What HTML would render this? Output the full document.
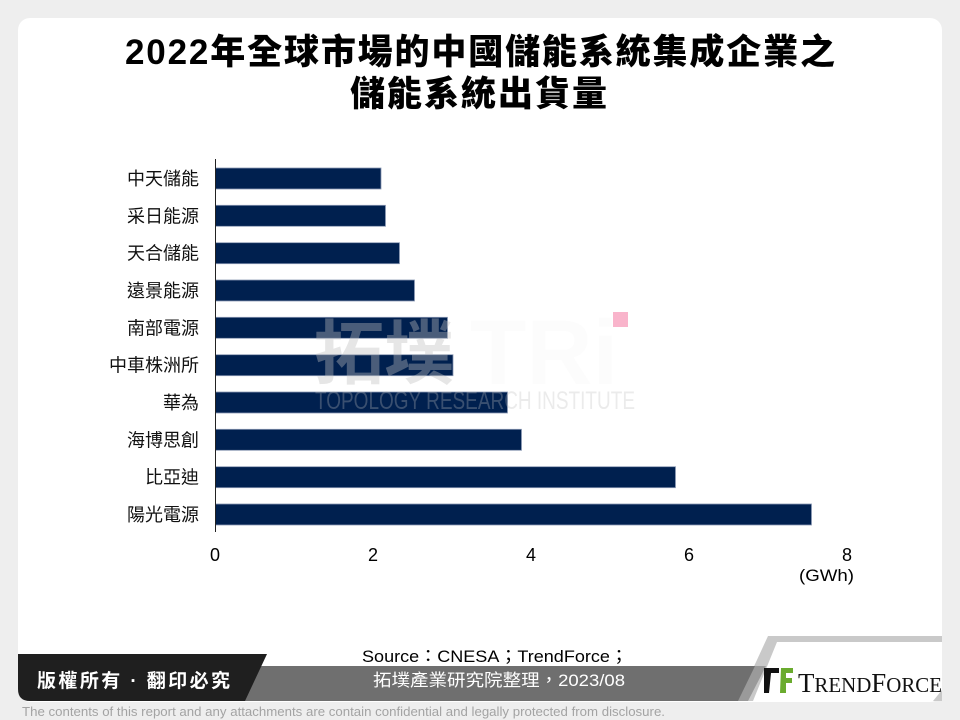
<!DOCTYPE html>
<html>
<head>
<meta charset="utf-8">
<style>
  html,body{margin:0;padding:0;background:#EEEEEE;}
  svg{display:block;}
</style>
</head>
<body>
<svg width="960" height="720" viewBox="0 0 960 720" xmlns="http://www.w3.org/2000/svg">
  <rect x="0" y="0" width="960" height="720" fill="#EEEEEE"/>
  <!-- card -->
  <rect x="18" y="18" width="924" height="684" rx="12" ry="12" fill="#FFFFFF"/>

  <!-- title -->
  <text x="125" y="64" font-size="35" font-weight="800" textLength="710" lengthAdjust="spacing" font-family="'Liberation Sans','Noto Sans CJK TC',sans-serif" fill="#000">2022年全球市場的中國儲能系統集成企業之</text>
  <text x="350" y="106" font-size="35" font-weight="800" textLength="257" lengthAdjust="spacing" font-family="'Liberation Sans','Noto Sans CJK TC',sans-serif" fill="#000">儲能系統出貨量</text>

  <!-- bars -->
  <g fill="#00204F" stroke="#8C9AB4" stroke-width="0.8">
    <rect x="215.5" y="168" width="165.5" height="21"/>
    <rect x="215.5" y="205.3" width="170" height="21"/>
    <rect x="215.5" y="242.7" width="184" height="21"/>
    <rect x="215.5" y="280" width="199" height="21"/>
    <rect x="215.5" y="317.3" width="232" height="21"/>
    <rect x="215.5" y="354.7" width="237.5" height="21"/>
    <rect x="215.5" y="392" width="292" height="21"/>
    <rect x="215.5" y="429.3" width="306" height="21"/>
    <rect x="215.5" y="466.7" width="460" height="21"/>
    <rect x="215.5" y="504" width="596" height="21"/>
  </g>

  <!-- axis -->
  <line x1="215.5" y1="159" x2="215.5" y2="532" stroke="#222" stroke-width="1"/>

  <!-- y labels -->
  <g font-family="'Liberation Sans','Noto Sans CJK TC',sans-serif" font-size="18" fill="#111" text-anchor="end">
    <text x="199" y="185">中天儲能</text>
    <text x="199" y="222.3">采日能源</text>
    <text x="199" y="259.7">天合儲能</text>
    <text x="199" y="297">遠景能源</text>
    <text x="199" y="334.3">南部電源</text>
    <text x="199" y="371.7">中車株洲所</text>
    <text x="199" y="409">華為</text>
    <text x="199" y="446.3">海博思創</text>
    <text x="199" y="483.7">比亞迪</text>
    <text x="199" y="521">陽光電源</text>
  </g>

  <!-- x ticks -->
  <g font-family="'Liberation Sans',sans-serif" font-size="18" fill="#000" text-anchor="middle">
    <text x="215" y="561">0</text>
    <text x="373" y="561">2</text>
    <text x="531" y="561">4</text>
    <text x="689" y="561">6</text>
    <text x="847" y="561">8</text>
  </g>
  <text x="854" y="581" font-family="'Liberation Sans',sans-serif" font-size="17" fill="#000" text-anchor="end" textLength="55" lengthAdjust="spacingAndGlyphs">(GWh)</text>

  <!-- watermark -->
  <text x="314" y="378" font-size="70" font-weight="bold" textLength="140" lengthAdjust="spacingAndGlyphs" font-family="'Liberation Sans','Noto Sans CJK TC',sans-serif" fill="rgb(190,190,190)" fill-opacity="0.39">拓墣</text>
  <text x="470" y="384" font-size="92" font-weight="bold" font-family="'Liberation Sans',sans-serif" fill="#000" fill-opacity="0.012">TRi</text>
  <rect x="613" y="312" width="15" height="15" fill="#F9B4CB"/>
  <text x="315" y="409" font-size="25" textLength="320" lengthAdjust="spacingAndGlyphs" font-family="'Liberation Sans',sans-serif" fill="rgb(190,190,190)" fill-opacity="0.3">TOPOLOGY RESEARCH INSTITUTE</text>

  <!-- footer -->
  <path d="M768,636 H942 V701 H738 Z" fill="#C9C9C9"/>
  <path d="M250,666 H760 L742,701 H240 Z" fill="#6F6F6F"/>
  <path d="M755,666 H766 L748,701 H738 Z" fill="#9A9A9A"/>
  <path d="M777,642 H942 V690 L933,701 H753 Z" fill="#FFFFFF"/>
  <path d="M18,654 H267 L245,701 H30 Q18,701 18,689 Z" fill="#1F1F1F"/>

  <text x="37" y="687" font-size="19" font-weight="bold" textLength="193" lengthAdjust="spacing" font-family="'Liberation Sans','Noto Sans CJK TC',sans-serif" fill="#FFFFFF">版權所有 · 翻印必究</text>

  <text x="362" y="662" font-size="17" textLength="266" lengthAdjust="spacingAndGlyphs" font-family="'Liberation Sans','Noto Sans CJK TC',sans-serif" fill="#000">Source：CNESA；TrendForce；</text>
  <text x="373" y="686" font-size="17" textLength="252" lengthAdjust="spacingAndGlyphs" font-family="'Liberation Sans','Noto Sans CJK TC',sans-serif" fill="#FFFFFF">拓墣產業研究院整理，2023/08</text>

  <!-- TrendForce logo -->
  <path d="M764,668 H779 V673 H771 L769,693 H764 Z" fill="#111"/>
  <path d="M781,668 H793 V673 H786 V678 H792 V683 H786 V693 H780 Z" fill="#6AAB2E"/>
  <text x="798" y="692" font-family="'Liberation Serif',serif" fill="#111" textLength="144" lengthAdjust="spacingAndGlyphs"><tspan font-size="27">T</tspan><tspan font-size="21">REND</tspan><tspan font-size="27">F</tspan><tspan font-size="21">ORCE</tspan></text>

  <!-- disclaimer -->
  <text x="22" y="716" font-size="13" textLength="643" lengthAdjust="spacingAndGlyphs" font-family="'Liberation Sans',sans-serif" fill="#A3A3A3">The contents of this report and any attachments are contain confidential and legally protected from disclosure.</text>
</svg>
</body>
</html>
